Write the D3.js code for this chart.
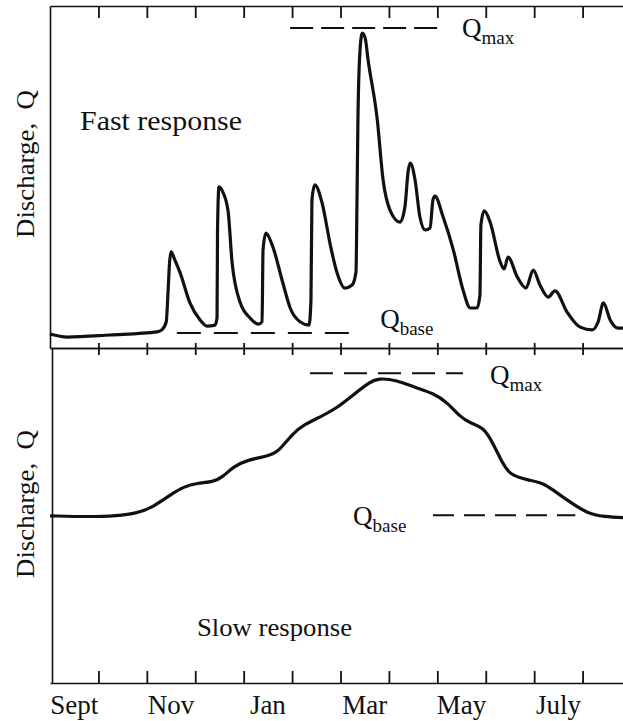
<!DOCTYPE html>
<html>
<head>
<meta charset="utf-8">
<script src="https://cdn.jsdelivr.net/npm/d3@7"></script>
<style>
  html, body { margin: 0; padding: 0; background: #fff; }
  svg { display: block; }
  text { font-family: "Liberation Serif", "Times New Roman", serif; fill: #111; }
</style>
</head>
<body>
<svg id="chart" width="623" height="721"></svg>
<script>
// ---------- data ----------
const months = ["Sept","Oct","Nov","Dec","Jan","Feb","Mar","Apr","May","June","July","Aug"];
const monthLabels = ["Sept","Nov","Jan","Mar","May","July"];
const tickMonths = [1,2,3,4,5,6,7,8,9,10,11];

// Fast response hydrograph (time in months from start of Sept, discharge in relative units)
const fastT = [0,0.35,1.24,2.21,2.31,2.40,2.44,2.47,2.50,2.58,2.69,2.89,3.10,3.24,3.41,3.45,3.46,3.49,3.57,3.68,3.76,3.93,4.13,4.30,4.38,4.40,4.46,4.59,4.81,4.96,5.17,5.35,5.39,5.41,5.47,5.62,5.79,5.93,6.09,6.24,6.32,6.34,6.36,6.40,6.45,6.51,6.57,6.76,6.88,7.02,7.23,7.33,7.40,7.44,7.54,7.64,7.75,7.85,7.91,7.95,8.12,8.33,8.53,8.68,8.82,8.88,8.90,8.97,9.09,9.30,9.38,9.46,9.65,9.83,9.98,10.12,10.29,10.43,10.68,10.95,11.20,11.32,11.43,11.57,11.74,11.95];
const fastQ = [4.1,3.2,3.8,4.7,5.3,7.6,17.0,25.1,28.1,25.7,21.9,13.2,8.2,6.4,6.7,8.8,34.5,47.1,45.6,39.8,25.1,13.2,8.8,7.0,7.6,28.7,33.6,30.1,19.0,11.7,7.6,6.7,14.0,43.3,47.7,42.4,30.1,21.9,17.5,18.4,22.2,42.4,66.7,86.3,92.1,90.6,84.2,66.7,49.1,40.4,36.8,41.2,52.0,54.1,49.1,38.3,34.5,35.1,43.3,44.4,38.3,28.7,17.0,11.7,11.7,15.5,36.0,40.1,36.8,25.1,23.1,26.6,20.8,17.5,22.8,18.4,14.9,16.7,10.5,6.1,5.3,7.6,13.2,8.2,5.8,5.8];

// Slow response hydrograph
const slowT = [0,0.83,1.38,1.80,2.13,2.54,2.75,3.04,3.37,3.57,3.78,4.07,4.55,4.75,5.02,5.23,5.58,5.93,6.26,6.61,6.78,7.17,7.50,7.91,8.22,8.47,8.68,8.95,9.15,9.34,9.50,9.86,10.19,10.39,10.74,11.09,11.43,11.95];
const slowQ = [49.9,49.6,49.9,50.7,52.5,56.7,58.5,59.7,60.0,61.5,64.5,66.6,67.8,69.6,74.6,77.0,79.4,82.1,86.0,89.9,91.0,90.4,88.4,86.6,83.6,79.4,77.6,76.4,71.6,65.7,62.1,60.6,59.7,57.6,54.0,50.7,49.6,49.3];

// Reference levels: [level, from month, to month]
const fastQmax = [93.6, 4.96, 8.10];
const fastQbase = [4.4, 2.62, 6.24];
const slowQmax = [92.5, 5.37, 8.53];
const slowQbase = [50.1, 7.91, 10.85];

// ---------- layout ----------
const svg = d3.select("#chart");
const L = 50, R = 631;
const topY0 = 6, midY = 348, botY = 683;
const ink = "#111";

const x = d3.scaleLinear().domain([0, 12]).range([L, R]);
const xb = d3.scaleBand().domain(months).range([L, R]);
const yTop = d3.scaleLinear().domain([0, 100]).range([midY, topY0]);
const yBot = d3.scaleLinear().domain([0, 100]).range([botY, midY]);

// ---------- axes ----------
function styleAxis(g) {
  g.selectAll("path.domain").attr("stroke", ink).attr("stroke-width", 1.6);
  g.selectAll(".tick line").attr("stroke", ink).attr("stroke-width", 1.8);
}
svg.append("g").attr("transform", `translate(0,${topY0})`)
  .call(d3.axisBottom(x).tickValues(tickMonths).tickSize(12).tickSizeOuter(0).tickFormat(""))
  .call(styleAxis);
svg.append("g").attr("transform", `translate(0,${midY})`)
  .call(d3.axisBottom(x).tickValues(tickMonths).tickSize(7).tickSizeOuter(0).tickFormat(""))
  .call(styleAxis);
svg.append("g").attr("transform", `translate(0,${midY})`)
  .call(d3.axisTop(x).tickValues(tickMonths).tickSize(5).tickSizeOuter(0).tickFormat(""))
  .call(styleAxis);
svg.append("g").attr("transform", `translate(0,${botY})`)
  .call(d3.axisTop(x).tickValues(tickMonths).tickSize(12).tickSizeOuter(0).tickFormat(""))
  .call(styleAxis);
svg.append("g").attr("transform", `translate(${L},0)`)
  .call(d3.axisLeft(yTop).tickValues([]).tickSizeOuter(0))
  .call(styleAxis);
svg.append("g").attr("transform", `translate(${L + 2},0)`)
  .call(d3.axisLeft(yBot).tickValues([]).tickSizeOuter(0))
  .call(styleAxis);

// month labels
const monthAxis = svg.append("g").attr("transform", `translate(0,${botY})`)
  .call(d3.axisBottom(xb).tickValues(monthLabels).tickSize(0).tickPadding(12));
monthAxis.select("path.domain").remove();
monthAxis.selectAll("text")
  .attr("font-family", '"Liberation Serif", "Times New Roman", serif')
  .attr("font-size", 27).attr("fill", ink);

// ---------- curves ----------
const fastData = fastT.map((t, i) => ({ t, q: fastQ[i] }));
const slowData = slowT.map((t, i) => ({ t, q: slowQ[i] }));

svg.append("path").datum(fastData)
  .attr("fill", "none").attr("stroke", ink).attr("stroke-width", 3.2).attr("stroke-linejoin", "round")
  .attr("d", d3.line().x(d => x(d.t)).y(d => yTop(d.q)).curve(d3.curveMonotoneX));

svg.append("path").datum(slowData)
  .attr("fill", "none").attr("stroke", ink).attr("stroke-width", 3.2).attr("stroke-linejoin", "round")
  .attr("d", d3.line().x(d => x(d.t)).y(d => yBot(d.q)).curve(d3.curveBasis));

// ---------- reference dashed lines ----------
function refLine(ref, y, dash) {
  svg.append("line")
    .attr("x1", x(ref[1])).attr("x2", x(ref[2]))
    .attr("y1", y(ref[0])).attr("y2", y(ref[0]))
    .attr("stroke", ink).attr("stroke-width", 2).attr("stroke-dasharray", dash);
}
refLine(fastQmax, yTop, "23,8");
refLine(fastQbase, yTop, "24,13");
refLine(slowQmax, yBot, "23,11");
refLine(slowQbase, yBot, "21,10");

// ---------- labels ----------
function qLabel(xp, yp, sub) {
  const t = svg.append("text").attr("x", xp).attr("y", yp).attr("font-size", 27);
  t.append("tspan").text("Q");
  t.append("tspan").attr("font-size", 19).attr("dy", 7).text(sub);
}
qLabel(x(8.51), yTop(90.8), "max");
qLabel(x(6.82), yTop(5.8), "base");
qLabel(x(9.09), yBot(89.2), "max");
qLabel(x(6.26), yBot(47.1), "base");

svg.append("text").attr("x", 80).attr("y", 130)
  .attr("font-size", 27).attr("textLength", 162).attr("lengthAdjust", "spacingAndGlyphs")
  .text("Fast response");
svg.append("text").attr("x", 197).attr("y", 636)
  .attr("font-size", 26).attr("textLength", 155).attr("lengthAdjust", "spacingAndGlyphs")
  .text("Slow response");

function yLabel(cy) {
  svg.append("text")
    .attr("transform", `translate(34,${cy}) rotate(-90)`)
    .attr("text-anchor", "middle")
    .attr("font-size", 26)
    .attr("textLength", 148).attr("lengthAdjust", "spacingAndGlyphs")
    .text("Discharge,\u00A0 Q");
}
yLabel(164);
yLabel(504);
</script>
</body>
</html>
